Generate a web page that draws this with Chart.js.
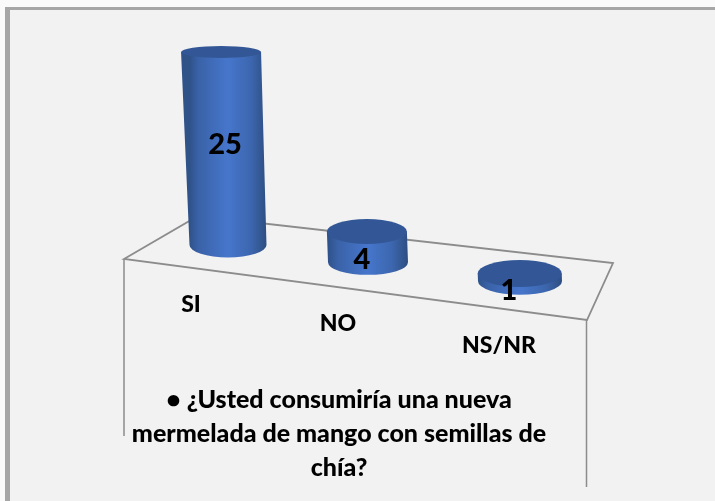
<!DOCTYPE html>
<html><head><meta charset="utf-8">
<style>html,body{margin:0;padding:0;background:#fafafa;overflow:hidden}
#wrap{position:absolute;left:0;top:0;width:715px;height:501px}
#frame{position:absolute;left:5px;top:7px;right:0;bottom:0;background:#f2f2f2;border-left:5px solid #a6a6a6;border-top:3px solid #a6a6a6}
canvas{position:absolute;left:0;top:0}</style>
<script src="https://cdn.jsdelivr.net/npm/chart.js@4"></script></head>
<body><div id="wrap"><div id="frame"></div><canvas id="c" width="715" height="501"></canvas></div>
<script>
const categories = ['SI','NO','NS/NR'];
const values = [25,4,1];
const seriesName = 'Respuestas';
const titleLines = ['• ¿Usted consumiría una nueva','mermelada de mango con semillas de','chía?'];

const FONT = 'Lato';
const tilt = 0.124;      // floor slope
const nudgeX = [0,-6,0]; // perspective spacing of the categories
const labelAt = [[191,305],[338,324],[499,346]];
const valueAt = [[225,145],[362,260],[509,291]];

const cylinders = {
  id:'cylinders',
  afterLayout(chart){ chart.titleBlock.left -= 35; chart.titleBlock.right -= 35; },
  beforeDatasetsDraw(chart){
    const g = chart.ctx;
    g.save();
    g.strokeStyle='#8c8c8c'; g.lineWidth=1.8; g.lineJoin='miter';
    g.beginPath(); g.moveTo(124,259); g.lineTo(198,216); g.lineTo(613,263); g.lineTo(587,320); g.closePath(); g.stroke();
    g.lineWidth=1.5;
    g.beginPath(); g.moveTo(124,259); g.lineTo(124,436); g.moveTo(586.5,320); g.lineTo(586.5,487); g.stroke();
    g.restore();
  },
  afterDatasetsDraw(chart){
    const g = chart.ctx, meta = chart.getDatasetMeta(0), x0 = meta.data[0].x;
    meta.data.forEach((bar,i)=>{
      const cx = bar.x + nudgeX[i];
      const shift = tilt*(cx-x0);
      const by = bar.base + shift, ty = bar.y + shift;
      const h = by-ty;
      const lean = h*0.036;
      const tx = cx-lean;
      const rx = i===2?42:(i===1?40:38.5), rxT = i===0?40:rx;
      const ryB = i===2?13.5:12.5, ryT = i===0?6:(i===1?12.5:13.5);
      const grad = g.createLinearGradient(cx-rx,0,cx+rx,0);
      grad.addColorStop(0,'#2f5289'); grad.addColorStop(0.12,'#3a62a8'); grad.addColorStop(0.5,'#4676cc');
      grad.addColorStop(0.8,'#3c66ae'); grad.addColorStop(1,'#2e4e82');
      g.save();
      g.fillStyle=grad;
      g.beginPath();
      g.moveTo(tx-rxT,ty);
      g.lineTo(cx-rx,by);
      g.ellipse(cx,by,rx,ryB,0,Math.PI,0,true);
      g.lineTo(tx+rxT,ty);
      g.closePath(); g.fill();
      g.fillStyle='#335796';
      g.beginPath(); g.ellipse(tx,ty,rxT,ryT,0,0,Math.PI*2); g.fill();
      g.fillStyle='#000'; g.textAlign='center'; g.textBaseline='middle';
      g.font=`900 29px ${FONT}`;
      g.fillText(String(values[i]),valueAt[i][0],valueAt[i][1]);
      g.font=`900 23px ${FONT}`;
      g.fillText(chart.scales.x.getLabelForValue(i),labelAt[i][0],labelAt[i][1]);
      g.restore();
    });
  }
};

new Chart(document.getElementById('c'),{
  type:'bar',
  data:{labels:categories,datasets:[{label:seriesName,data:values,backgroundColor:'rgba(0,0,0,0)',borderWidth:0}]},
  plugins:[cylinders],
  options:{
    responsive:false,animation:false,
    layout:{padding:{left:155,right:122,top:52,bottom:0}},
    scales:{x:{display:false},y:{display:false,min:0,max:25}},
    plugins:{legend:{display:false},tooltip:{enabled:false},
      title:{display:true,position:'bottom',text:titleLines,color:'#000',
        font:{family:FONT,weight:'900',size:25,lineHeight:1.36},padding:{top:138,bottom:16}}}
  }
});
</script></body></html>
